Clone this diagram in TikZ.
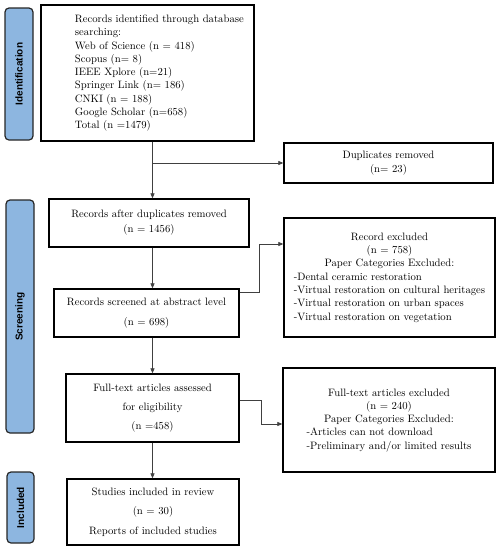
\documentclass[tikz,border=0pt]{standalone}
\usepackage{fontspec}
\newfontfamily\lblfont{Liberation Sans}
\usetikzlibrary{arrows.meta,calc}
\definecolor{lblblue}{RGB}{141,182,224}
\begin{document}
\begin{tikzpicture}[x=1pt,y=-1pt,
  box/.style={draw=black,line width=1.3pt,inner sep=0pt,align=center,font=\fontsize{10.7}{13.3}\selectfont},
  lbl/.style={draw=black!85,line width=1.2pt,fill=lblblue,rounded corners=4pt,inner sep=0pt,rotate=90,font=\lblfont\bfseries\fontsize{10}{12}\selectfont},
  arr/.style={draw=black!75,line width=0.7pt,-{Triangle[length=5pt,width=4pt]}}]
\useasboundingbox (0,0) rectangle (499,550);
% phase labels
\node[lbl,minimum width=132pt,minimum height=28pt] (lid) at (19,74) {Identification};
\node[lbl,minimum width=233pt,minimum height=28pt] (lsc) at (20,316.5) {Screening};
\node[lbl,minimum width=71pt,minimum height=27pt] (lin) at (20.5,507.5) {Included};
% boxes
\node[box,minimum width=213pt,minimum height=136pt,text width=213pt,align=left] (b1) at (147.5,73)
 {\hspace*{34pt}\begin{tabular}{@{}l@{}}Records identified through database\\ searching:\\ Web of Science (n = 418)\\ Scopus (n= 8)\\ IEEE Xplore (n=21)\\ Springer Link (n= 186)\\ CNKI (n = 188)\\ Google Scholar (n=658)\\ Total (n =1479)\end{tabular}};
\node[box,minimum width=209pt,minimum height=40pt] (dup) at (388.5,163) {Duplicates removed\\(n= 23)};
\node[box,minimum width=200pt,minimum height=48pt] (b2) at (149,223) {Records after duplicates removed\\[1.7pt](n = 1456)};
\node[box,minimum width=185pt,minimum height=48pt] (b3) at (146.5,313) {Records screened at abstract level\\[6.7pt](n = 698)};
\node[box,minimum width=211pt,minimum height=119pt] (ex1) at (389.5,277.5)
 {\begin{tabular}{@{}l@{}}
 \multicolumn{1}{@{}c@{}}{Record excluded}\\
 \multicolumn{1}{@{}c@{}}{(n = 758)}\\
 \multicolumn{1}{@{}c@{}}{Paper Categories Excluded:}\\
 -Dental ceramic restoration\\
 -Virtual restoration on cultural heritages\\
 -Virtual restoration on urban spaces\\
 -Virtual restoration on vegetation
 \end{tabular}};
\node[box,minimum width=173pt,minimum height=68pt] (b4) at (152.5,408) {Full-text articles assessed\\[6pt]for eligibility\\[6pt](n =458)};
\node[box,minimum width=212pt,minimum height=104pt] (ex2) at (389,420)
 {\begin{tabular}{@{}l@{}}
 \multicolumn{1}{@{}c@{}}{Full-text articles excluded}\\
 \multicolumn{1}{@{}c@{}}{(n = 240)}\\
 \multicolumn{1}{@{}c@{}}{Paper Categories Excluded:}\\
 -Articles can not download\\
 -Preliminary and/or limited results
 \end{tabular}};
\node[box,minimum width=172pt,minimum height=66pt] (b6) at (153,512) {Studies included in review\\[6pt](n = 30)\\[6pt]Reports of included studies};
% connectors
\coordinate (sp) at (152.5,0);
\draw[arr] (b1.south -| sp) -- (b2.north -| sp);
\draw[arr] (sp |- dup.west) -- (dup.west);
\draw[arr] (b2.south -| sp) -- (b3.north -| sp);
\draw[arr] (b3.south -| sp) -- (b4.north -| sp);
\draw[arr] (b4.south -| sp) -- (b6.north -| sp);
\draw[arr] ([yshift=-4pt]b3.north east) -- ++(20,0) |- ([yshift=33.5pt]ex1.west);
\draw[arr] ([yshift=8pt]b4.east) -- ++(22,0) |- ([yshift=-4pt]ex2.west);
\end{tikzpicture}
\end{document}
